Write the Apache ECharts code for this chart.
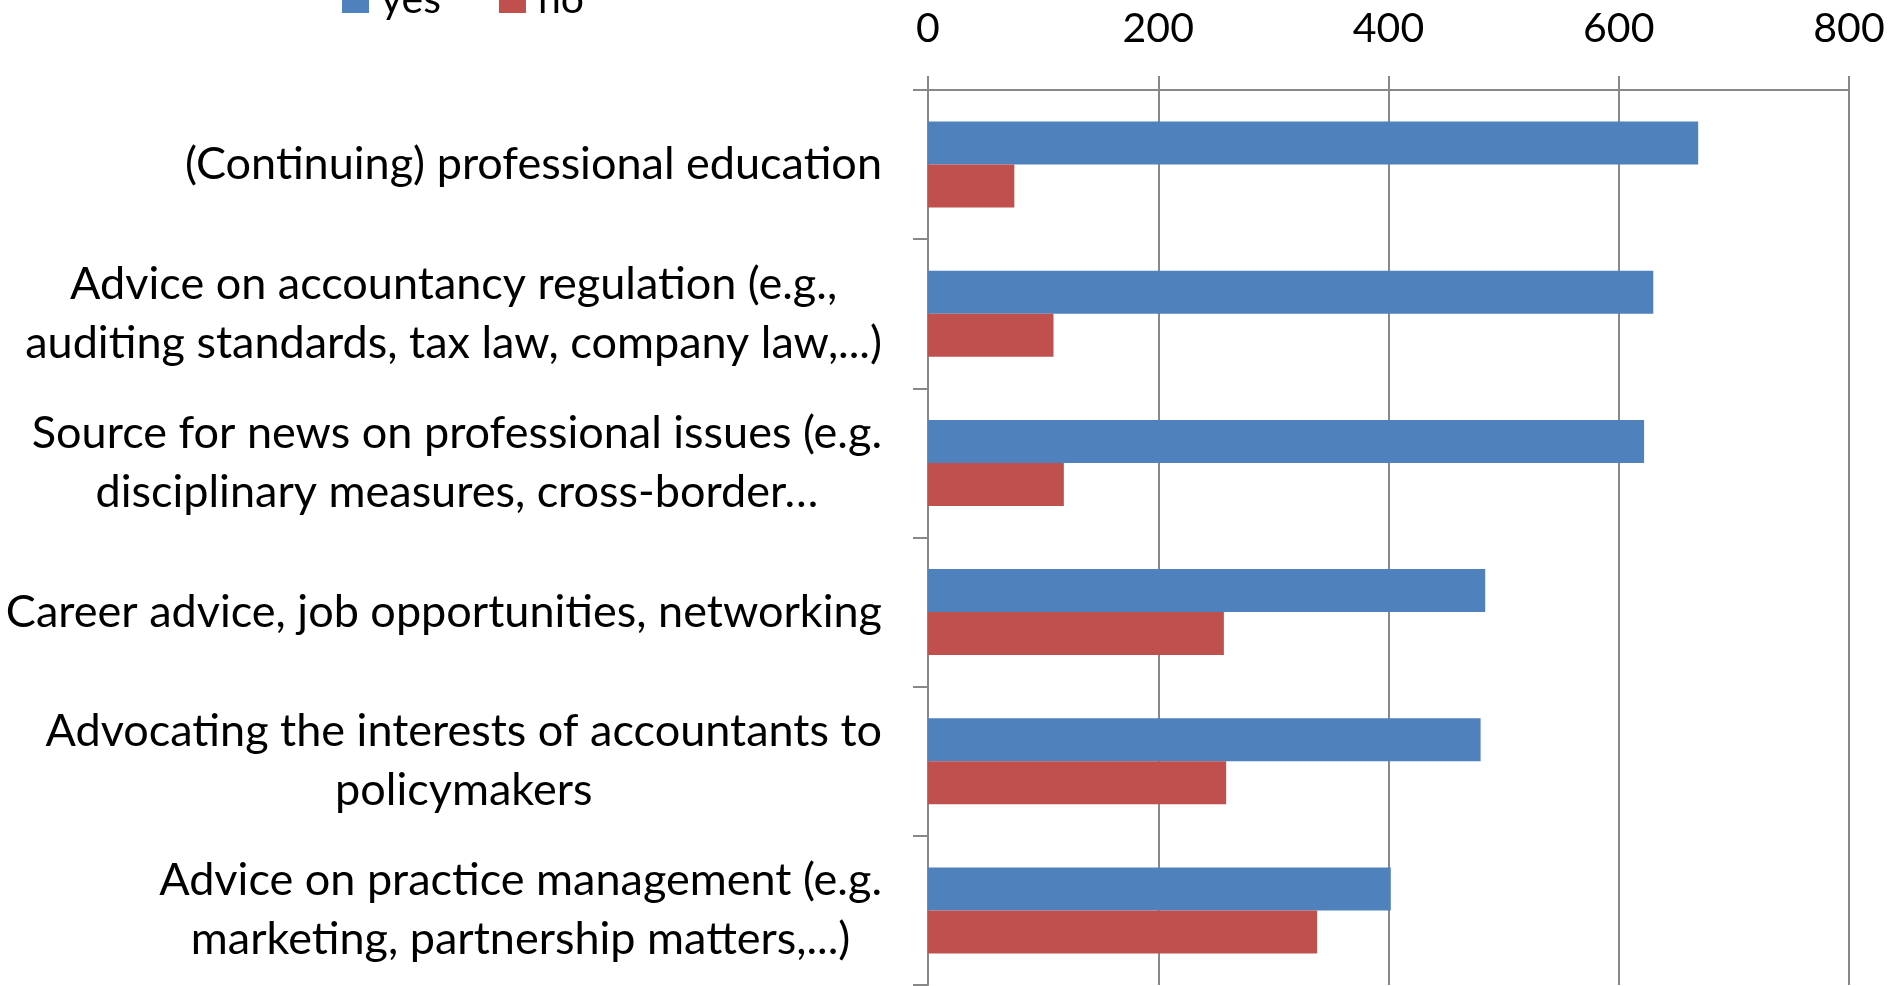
<!DOCTYPE html>
<html>
<head>
<meta charset="utf-8">
<title>Services</title>
<script src="https://cdn.jsdelivr.net/npm/echarts@6/dist/echarts.min.js"></script>
<style>
  html, body { margin: 0; padding: 0; background: #fff; }
  #chart { width: 1891px; height: 986px; }
</style>
</head>
<body>
<div id="chart"></div>
<script>
// categories, top to bottom
const categories = [
  '(Continuing) professional education',
  'Advice on accountancy regulation (e.g.,\nauditing standards, tax law, company law,...)',
  'Source for news on professional issues (e.g.\ndisciplinary measures, cross-border\u2026',
  'Career advice, job opportunities, networking',
  'Advocating the interests of accountants to\npolicymakers',
  'Advice on practice management (e.g.\nmarketing, partnership matters,...)'
];
const seriesNames = ['yes', 'no'];
const yesValues = [669, 630, 622, 484, 480, 402];
const noValues = [75, 109, 118, 257, 259, 338];
const xTicks = [0, 200, 400, 600, 800];

const FONT = 'Lato';
const AXIS_GREY = '#888888';

const chart = echarts.init(document.getElementById('chart'));

const option = {
  backgroundColor: '#fff',
  animation: false,
  textStyle: { fontFamily: FONT },
  legend: {
    data: seriesNames,
    left: 337,
    top: -26,
    icon: 'rect',
    itemWidth: 27,
    itemHeight: 27,
    itemGap: 58,
    textStyle: { fontFamily: FONT, fontSize: 41, color: '#000', padding: [0, 0, 0, 7] }
  },
  // fixed plot box, labels are allowed to sit right at the edge
  grid: { left: 928, right: 42, top: 90, bottom: 1, containLabel: false, outerBoundsMode: 'none' },
  xAxis: {
    type: 'value',
    position: 'top',
    min: xTicks[0],
    max: xTicks[xTicks.length - 1],
    interval: 200,
    axisLine: { show: true, lineStyle: { color: AXIS_GREY, width: 2 } },
    axisTick: { show: true, length: 14, lineStyle: { color: AXIS_GREY, width: 2 } },
    axisLabel: { color: '#000', fontFamily: FONT, fontSize: 41, margin: 41 },
    splitLine: { show: true, lineStyle: { color: AXIS_GREY, width: 2 } }
  },
  yAxis: {
    type: 'category',
    inverse: true,
    data: categories,
    axisLine: { show: true, lineStyle: { color: AXIS_GREY, width: 2 } },
    axisTick: { show: true, length: 15, lineStyle: { color: AXIS_GREY, width: 2 } },
    axisLabel: {
      margin: 46,
      // each line centred inside a right-aligned block, like the source
      formatter: (value) => value.split('\n').map(s => '{c|' + s + '}').join('\n'),
      rich: {
        c: { align: 'center', fontFamily: FONT, fontSize: 45, lineHeight: 59, color: '#000' }
      }
    }
  },
  series: [
    {
      name: seriesNames[0],
      type: 'bar',
      data: yesValues,
      barWidth: 43,
      barGap: '0%',
      itemStyle: { color: '#4F81BD' }
    },
    {
      name: seriesNames[1],
      type: 'bar',
      data: noValues,
      barWidth: 43,
      barGap: '0%',
      itemStyle: { color: '#C0504D' }
    }
  ]
};

chart.setOption(option);
</script>
</body>
</html>
